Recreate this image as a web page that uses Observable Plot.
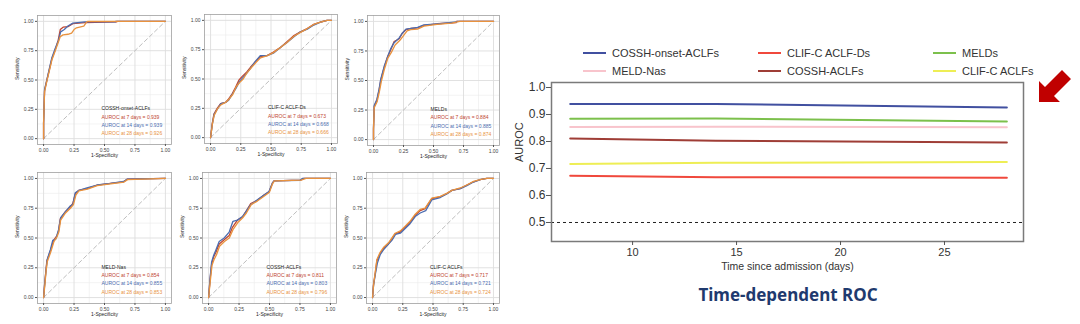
<!DOCTYPE html>
<html><head><meta charset="utf-8">
<script src="https://cdn.jsdelivr.net/npm/d3@7"></script>
<script src="https://cdn.jsdelivr.net/npm/@observablehq/plot@0.6"></script>
<style>
body{margin:0;background:#fff;}
#root{position:relative;width:1080px;height:324px;overflow:hidden;font-family:"Liberation Sans",Arial,sans-serif;background:#fff;}
.panel{position:absolute;}
.panel svg{background:transparent;display:block;}
.leg{position:absolute;font-size:11px;color:#333;white-space:nowrap;display:flex;align-items:center;}
.leg i{display:inline-block;width:23px;height:2px;margin-right:6px;}
#title{position:absolute;left:620px;width:336px;top:283px;text-align:center;font-family:"Noto Sans","Open Sans",sans-serif;font-weight:bold;font-size:17px;color:#1f3a6e;}
</style></head><body><div id="root"></div>
<script>
// ---------- data ----------
const modelNames = ["COSSH-onset-ACLFs","CLIF-C ACLF-Ds","MELDs","MELD-Nas","COSSH-ACLFs","CLIF-C ACLFs"];
const auroc7  = [0.939, 0.673, 0.884, 0.854, 0.811, 0.717];
const auroc14 = [0.939, 0.668, 0.885, 0.855, 0.803, 0.721];
const auroc28 = [0.926, 0.666, 0.874, 0.853, 0.796, 0.724];
const horizonDays = [7, 14, 28];
const rocTicks = [0, 0.25, 0.5, 0.75, 1];
const rocMinorTicks = [0.125, 0.375, 0.625, 0.875];
const timeTicks = [10, 15, 20, 25];
const aurocTicks = [0.5, 0.6, 0.7, 0.8, 0.9, 1.0];

// ROC curves: [1-specificity, sensitivity]
const rocCosshOnset7  = [[0,0],[0,0.13],[0.008,0.41],[0.027,0.5],[0.05,0.6],[0.068,0.68],[0.096,0.76],[0.12,0.84],[0.137,0.93],[0.16,0.95],[0.2,0.955],[0.24,0.98],[0.34,0.99],[0.6,0.995],[0.6,1],[1,1]];
const rocCosshOnset14 = [[0,0],[0,0.13],[0.008,0.42],[0.027,0.5],[0.05,0.61],[0.068,0.69],[0.096,0.77],[0.12,0.83],[0.14,0.91],[0.17,0.93],[0.2,0.96],[0.24,0.985],[0.34,0.995],[0.59,0.995],[0.59,1],[1,1]];
const rocCosshOnset28 = [[0,0],[0,0.13],[0.008,0.4],[0.027,0.49],[0.05,0.59],[0.068,0.67],[0.096,0.75],[0.12,0.82],[0.137,0.87],[0.16,0.885],[0.2,0.89],[0.23,0.9],[0.25,0.93],[0.27,0.945],[0.33,0.96],[0.35,0.99],[0.36,1],[1,1]];

const rocClifD7  = [[0,0],[0.014,0.12],[0.028,0.2],[0.055,0.25],[0.083,0.29],[0.124,0.3],[0.15,0.33],[0.18,0.375],[0.207,0.43],[0.234,0.49],[0.26,0.52],[0.3,0.56],[0.33,0.6],[0.37,0.645],[0.413,0.69],[0.468,0.7],[0.52,0.73],[0.58,0.77],[0.63,0.815],[0.69,0.87],[0.74,0.9],[0.8,0.93],[0.854,0.966],[0.91,0.986],[0.964,1],[1,1]];
const rocClifD14 = [[0,0],[0.014,0.11],[0.03,0.2],[0.055,0.24],[0.085,0.29],[0.124,0.3],[0.15,0.32],[0.18,0.37],[0.21,0.42],[0.24,0.48],[0.265,0.51],[0.3,0.55],[0.33,0.59],[0.37,0.65],[0.413,0.7],[0.468,0.7],[0.52,0.72],[0.58,0.77],[0.63,0.81],[0.69,0.86],[0.74,0.9],[0.8,0.925],[0.854,0.96],[0.91,0.985],[0.964,1],[1,1]];
const rocClifD28 = [[0,0],[0.016,0.12],[0.03,0.19],[0.06,0.25],[0.085,0.28],[0.124,0.3],[0.155,0.33],[0.185,0.37],[0.21,0.43],[0.24,0.47],[0.27,0.5],[0.3,0.55],[0.34,0.6],[0.375,0.64],[0.413,0.68],[0.47,0.7],[0.52,0.725],[0.58,0.77],[0.63,0.81],[0.69,0.865],[0.74,0.895],[0.8,0.93],[0.854,0.965],[0.91,0.985],[0.964,1],[1,1]];

const rocMeld7  = [[0,0],[0,0.09],[0.006,0.28],[0.028,0.33],[0.047,0.42],[0.06,0.5],[0.089,0.61],[0.117,0.7],[0.144,0.76],[0.172,0.83],[0.214,0.853],[0.24,0.9],[0.27,0.93],[0.31,0.94],[0.367,0.946],[0.42,0.966],[0.53,0.98],[0.69,0.99],[0.69,1],[1,1]];
const rocMeld14 = [[0,0],[0,0.1],[0.006,0.29],[0.028,0.34],[0.047,0.43],[0.06,0.51],[0.089,0.62],[0.117,0.7],[0.144,0.77],[0.172,0.82],[0.214,0.86],[0.24,0.9],[0.27,0.935],[0.31,0.94],[0.367,0.95],[0.42,0.97],[0.53,0.98],[0.69,0.995],[0.7,1],[1,1]];
const rocMeld28 = [[0,0],[0,0.08],[0.006,0.27],[0.03,0.32],[0.05,0.41],[0.065,0.49],[0.092,0.6],[0.12,0.69],[0.15,0.74],[0.18,0.8],[0.22,0.84],[0.25,0.88],[0.28,0.92],[0.31,0.93],[0.367,0.935],[0.42,0.96],[0.53,0.975],[0.65,0.985],[0.72,1],[1,1]];

const rocMeldNa7  = [[0,0],[0.008,0.11],[0.019,0.225],[0.027,0.31],[0.055,0.39],[0.082,0.48],[0.11,0.52],[0.123,0.56],[0.137,0.66],[0.178,0.72],[0.219,0.76],[0.24,0.79],[0.26,0.87],[0.288,0.9],[0.356,0.915],[0.44,0.944],[0.548,0.958],[0.658,0.972],[0.685,0.994],[1,1]];
const rocMeldNa14 = [[0,0],[0.008,0.1],[0.02,0.23],[0.03,0.32],[0.055,0.4],[0.075,0.48],[0.1,0.49],[0.123,0.57],[0.14,0.67],[0.178,0.72],[0.219,0.77],[0.24,0.78],[0.26,0.88],[0.29,0.9],[0.356,0.92],[0.44,0.945],[0.548,0.958],[0.658,0.975],[0.685,0.994],[1,1]];
const rocMeldNa28 = [[0,0],[0.01,0.1],[0.02,0.22],[0.03,0.3],[0.058,0.38],[0.085,0.47],[0.11,0.51],[0.125,0.55],[0.14,0.65],[0.18,0.71],[0.22,0.75],[0.245,0.78],[0.265,0.86],[0.29,0.895],[0.36,0.91],[0.44,0.94],[0.55,0.955],[0.66,0.97],[0.69,0.99],[1,1]];

const rocCossh7  = [[0,0],[0.011,0.14],[0.025,0.28],[0.041,0.34],[0.06,0.38],[0.087,0.45],[0.128,0.485],[0.169,0.52],[0.196,0.59],[0.237,0.65],[0.278,0.676],[0.305,0.72],[0.346,0.79],[0.4,0.817],[0.455,0.86],[0.496,0.887],[0.523,0.958],[0.537,0.98],[0.755,0.986],[0.78,1],[1,1]];
const rocCossh14 = [[0,0],[0.011,0.15],[0.025,0.3],[0.04,0.35],[0.06,0.4],[0.087,0.47],[0.128,0.5],[0.169,0.55],[0.2,0.64],[0.237,0.65],[0.278,0.68],[0.305,0.72],[0.346,0.78],[0.4,0.82],[0.455,0.86],[0.496,0.89],[0.523,0.96],[0.537,0.98],[0.75,0.985],[0.77,1],[1,1]];
const rocCossh28 = [[0,0],[0.013,0.13],[0.028,0.27],[0.045,0.32],[0.065,0.36],[0.09,0.43],[0.13,0.47],[0.17,0.5],[0.2,0.57],[0.24,0.63],[0.28,0.67],[0.31,0.71],[0.35,0.78],[0.4,0.81],[0.455,0.85],[0.5,0.885],[0.525,0.955],[0.54,0.98],[0.76,0.986],[0.8,1],[1,1]];

const rocClif7  = [[0,0],[0.008,0.11],[0.022,0.2],[0.036,0.31],[0.063,0.37],[0.09,0.41],[0.132,0.45],[0.16,0.49],[0.187,0.535],[0.23,0.55],[0.27,0.59],[0.31,0.63],[0.353,0.69],[0.394,0.73],[0.435,0.746],[0.49,0.83],[0.56,0.845],[0.614,0.873],[0.656,0.9],[0.725,0.915],[0.78,0.944],[0.835,0.972],[0.89,0.99],[0.945,1],[1,1]];
const rocClif14 = [[0,0],[0.008,0.1],[0.022,0.19],[0.04,0.29],[0.063,0.36],[0.09,0.4],[0.132,0.45],[0.16,0.48],[0.19,0.53],[0.23,0.54],[0.27,0.58],[0.31,0.62],[0.353,0.68],[0.394,0.71],[0.44,0.73],[0.49,0.82],[0.56,0.84],[0.614,0.87],[0.656,0.9],[0.725,0.915],[0.78,0.94],[0.835,0.97],[0.89,0.99],[0.945,1],[1,1]];
const rocClif28 = [[0,0],[0.01,0.12],[0.022,0.21],[0.036,0.32],[0.063,0.38],[0.09,0.42],[0.132,0.46],[0.16,0.5],[0.187,0.54],[0.23,0.56],[0.27,0.6],[0.31,0.64],[0.353,0.7],[0.394,0.74],[0.435,0.75],[0.49,0.835],[0.56,0.85],[0.614,0.875],[0.656,0.9],[0.725,0.92],[0.78,0.945],[0.835,0.975],[0.89,0.99],[0.945,1],[1,1]];

const rocCurves = [
  [rocCosshOnset7, rocCosshOnset14, rocCosshOnset28],
  [rocClifD7, rocClifD14, rocClifD28],
  [rocMeld7, rocMeld14, rocMeld28],
  [rocMeldNa7, rocMeldNa14, rocMeldNa28],
  [rocCossh7, rocCossh14, rocCossh28],
  [rocClif7, rocClif14, rocClif28]
];

// time-dependent chart uses the same AUROCs at 7/14/28 days
const legendOrder = ["COSSH-onset-ACLFs","CLIF-C ACLF-Ds","MELDs","MELD-Nas","COSSH-ACLFs","CLIF-C ACLFs"];

// ---------- styles / layout ----------
const dayColors = ["#c0452f", "#4c6db0", "#e8923e"];
const modelColors = {
  "COSSH-onset-ACLFs": "#4150a0",
  "CLIF-C ACLF-Ds": "#f0483c",
  "MELDs": "#7cc04c",
  "MELD-Nas": "#f8c4cc",
  "COSSH-ACLFs": "#9f3d36",
  "CLIF-C ACLFs": "#eeee55"
};
const panelLayout = [
  {left:0,   top:0,   w:172, h:162, ml:37, mr:1,  mt:15, mb:18},
  {left:170, top:0,   w:170, h:162, ml:34, mr:3,  mt:14, mb:19},
  {left:340, top:0,   w:170, h:162, ml:27, mr:11, mt:15, mb:17},
  {left:0,   top:160, w:172, h:162, ml:37, mr:1,  mt:12, mb:19},
  {left:170, top:160, w:170, h:162, ml:32, mr:4,  mt:12, mb:19},
  {left:340, top:160, w:170, h:162, ml:26, mr:11, mt:12, mb:19}
];
const FONT = "'Liberation Sans', Arial, sans-serif";
const root = document.getElementById("root");

function place(el, left, top) {
  const d = document.createElement("div");
  d.className = "panel";
  d.style.left = left + "px";
  d.style.top = top + "px";
  d.appendChild(el);
  root.appendChild(d);
}

// ---------- six ROC panels ----------
panelLayout.forEach((L, i) => {
  const curves = rocCurves[i];
  const labels = [
    {t: modelNames[i], c: "#222", y: 0.255},
    {t: `AUROC at ${horizonDays[0]} days = ${auroc7[i].toFixed(3)}`, c: dayColors[0], y: 0.185},
    {t: `AUROC at ${horizonDays[1]} days = ${auroc14[i].toFixed(3)}`, c: dayColors[1], y: 0.115},
    {t: `AUROC at ${horizonDays[2]} days = ${auroc28[i].toFixed(3)}`, c: dayColors[2], y: 0.045}
  ];
  const svg = Plot.plot({
    width: L.w, height: L.h,
    marginLeft: L.ml, marginRight: L.mr, marginTop: L.mt, marginBottom: L.mb,
    style: {fontFamily: FONT, fontSize: "5px", background: "transparent", overflow: "visible"},
    x: {domain: [-0.05, 1.05]},
    y: {domain: [-0.05, 1.05]},
    marks: [
      Plot.gridX(rocMinorTicks, {stroke: "#ebebeb", strokeOpacity: 1, strokeWidth: 0.6}),
      Plot.gridY(rocMinorTicks, {stroke: "#ebebeb", strokeOpacity: 1, strokeWidth: 0.6}),
      Plot.gridX(rocTicks, {stroke: "#dedede", strokeOpacity: 1, strokeWidth: 0.9}),
      Plot.gridY(rocTicks, {stroke: "#dedede", strokeOpacity: 1, strokeWidth: 0.9}),
      Plot.line([[0,0],[1,1]], {stroke: "#b5b5b5", strokeWidth: 0.9, strokeDasharray: "4,3"}),
      ...curves.map((c, k) => Plot.line(c, {x: d => d[0], y: d => d[1], stroke: dayColors[k], strokeWidth: 1.3})),
      Plot.frame({stroke: "#a0a0a0", strokeWidth: 0.8}),
      Plot.axisX({ticks: rocTicks, tickFormat: d3.format(".2f"), tickSize: 2, tickPadding: 2, fontSize: 5, label: null, stroke: "#555", fill: "#444"}),
      Plot.axisY({ticks: rocTicks, tickFormat: d3.format(".2f"), tickSize: 2, tickPadding: 2, fontSize: 5, label: null, stroke: "#555", fill: "#444"}),
      Plot.text(["1-Specificity"], {frameAnchor: "bottom", dy: 12, fontSize: 5, fill: "#222"}),
      Plot.text(["Sensitivity"], {frameAnchor: "left", dx: -20, rotate: -90, fontSize: 5, fill: "#222"}),
      Plot.text(labels, {x: () => 0.475, y: "y", text: "t", fill: "c", textAnchor: "start", fontSize: 5})
    ]
  });
  place(svg, L.left, L.top);
});

// ---------- time-dependent AUROC chart ----------
const tdRows = [];
legendOrder.forEach(name => {
  const i = modelNames.indexOf(name);
  [auroc7[i], auroc14[i], auroc28[i]].forEach((v, k) => tdRows.push({model: name, day: horizonDays[k], auc: v}));
});

const td = Plot.plot({
  width: 520, height: 215,
  marginLeft: 31, marginRight: 17, marginTop: 12, marginBottom: 44,
  style: {fontFamily: FONT, background: "transparent", overflow: "visible"},
  x: {domain: [6.1, 28.8]},
  y: {domain: [0.4296, 1.0185]},
  marks: [
    Plot.ruleY([0.5], {stroke: "#222", strokeWidth: 1, strokeDasharray: "3,3"}),
    Plot.line(tdRows, {x: "day", y: "auc", z: "model", stroke: d => modelColors[d.model], strokeWidth: 2}),
    Plot.frame({stroke: "#7a7a7a", strokeWidth: 1.5}),
    Plot.axisY({ticks: aurocTicks, tickFormat: d3.format(".1f"), tickSize: 5, tickPadding: 1, fontSize: 12, label: null, stroke: "#555", fill: "#333"}),
    Plot.axisX({ticks: timeTicks, tickSize: 4, tickPadding: 3, fontSize: 11, label: null, stroke: "#555", fill: "#333"}),
    Plot.text(["Time since admission (days)"], {frameAnchor: "bottom", dy: 28, fontSize: 10.5, fill: "#333"}),
    Plot.text(["AUROC"], {frameAnchor: "left", dx: -32, rotate: -90, fontSize: 11, fill: "#333"})
  ]
});
place(td, 520, 70);

// legend
const legendPos = [
  {x: 583, y: 54}, {x: 758, y: 54}, {x: 933, y: 54},
  {x: 583, y: 72}, {x: 758, y: 72}, {x: 933, y: 72}
];
legendOrder.forEach((name, k) => {
  const d = document.createElement("div");
  d.className = "leg";
  d.style.left = legendPos[k].x + "px";
  d.style.top = (legendPos[k].y - 7) + "px";
  d.innerHTML = `<i style="background:${modelColors[name]}"></i><span>${name}</span>`;
  root.appendChild(d);
});

// title
const t = document.createElement("div");
t.id = "title";
t.textContent = "Time-dependent ROC";
root.appendChild(t);

// decorative red arrow
const ns = "http://www.w3.org/2000/svg";
const a = document.createElementNS(ns, "svg");
a.setAttribute("width", 1080); a.setAttribute("height", 324);
a.style.position = "absolute"; a.style.left = "0"; a.style.top = "0"; a.style.pointerEvents = "none";
const p = document.createElementNS(ns, "polygon");
p.setAttribute("points", "1039,102 1039,81 1045,87 1062,70 1071,79 1054,96 1060,102");
p.setAttribute("fill", "#c00000");
a.appendChild(p);
root.appendChild(a);
</script></body></html>
